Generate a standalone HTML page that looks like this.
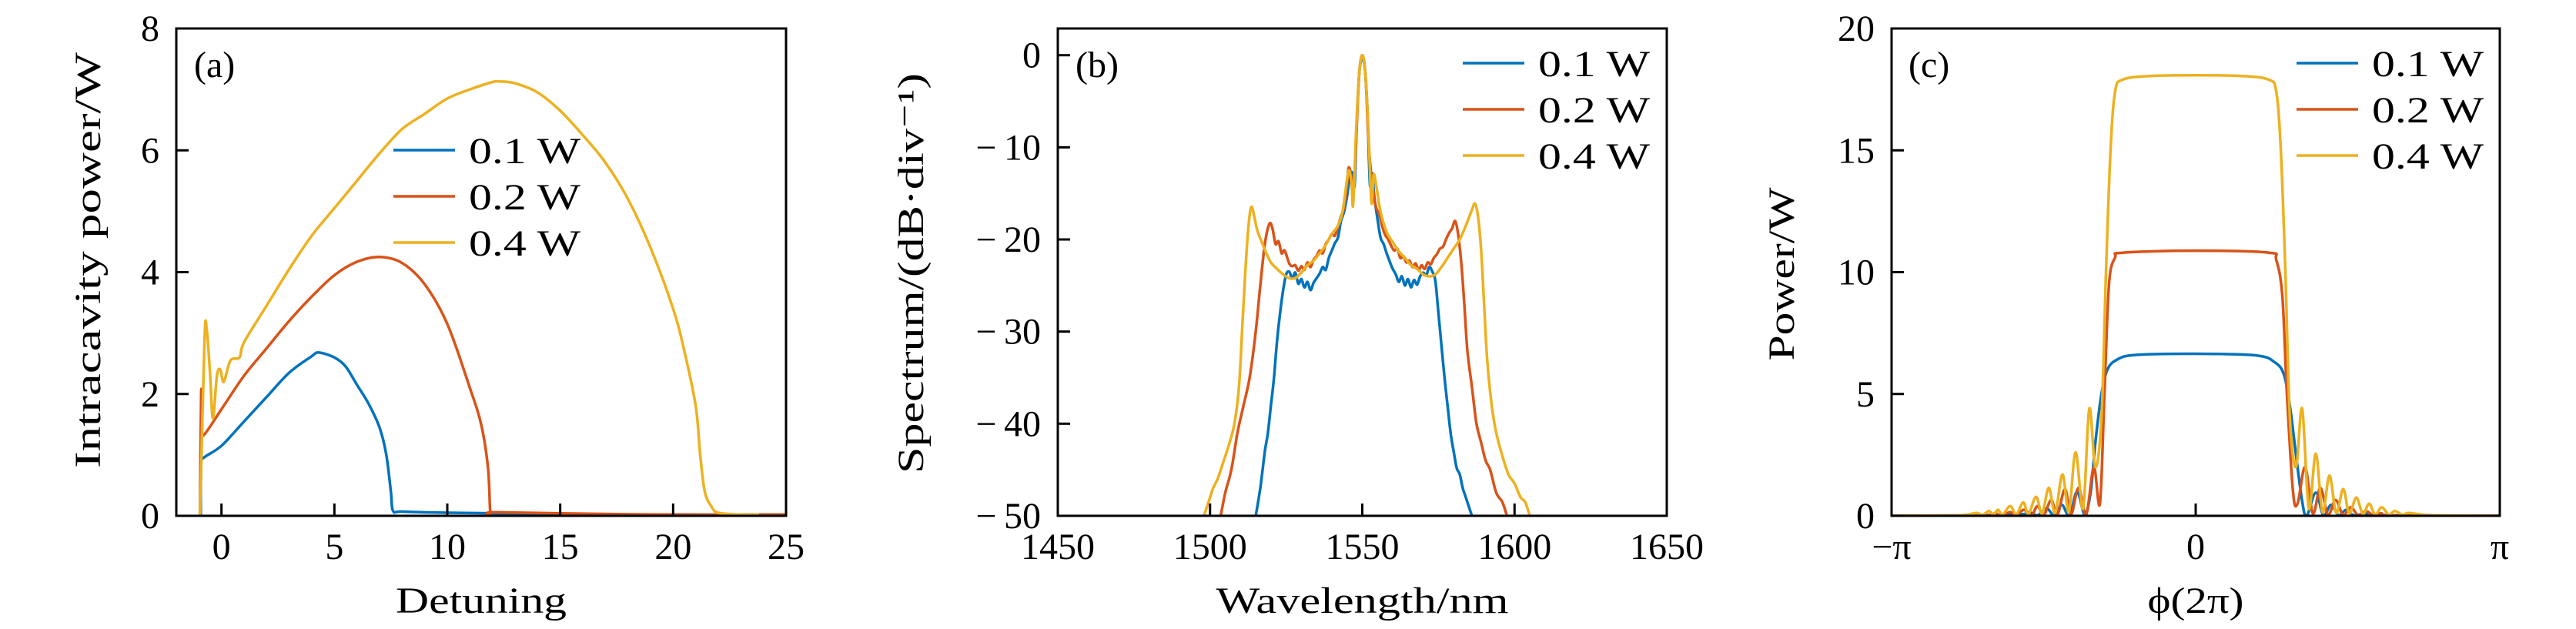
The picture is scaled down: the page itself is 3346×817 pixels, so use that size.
<!DOCTYPE html>
<html><head><meta charset="utf-8"><style>
html,body{margin:0;padding:0;background:#fff}
svg{display:block}
text{font-family:"Liberation Serif",serif;fill:#000}
</style></head><body>
<svg id="fig" width="3346" height="817" viewBox="0 0 3346 817" xmlns="http://www.w3.org/2000/svg"></svg>
<script>
// ---- Panel (a) data: detuning vs intracavity power ----
const aXTicks=[0,5,10,15,20,25];
const aYTicks=[0,2,4,6,8];
const aBlue=[[-0.92,0],[-0.9,0.85],[-0.8,0.95],[0,1.15],[1,1.55],[2,1.95],[3,2.35],[4,2.62],[4.3,2.68],[5,2.6],[5.5,2.45],[6,2.15],[6.5,1.85],[7,1.45],[7.3,1.0],[7.5,0.4],[7.6,0.08],[8,0.07],[10,0.05],[15,0.03],[20,0.02],[25,0.02]];
const aRed=[[-0.95,0],[-0.9,2.03],[-0.85,1.5],[-0.8,1.32],[0,1.75],[1,2.3],[2,2.75],[3,3.2],[4,3.6],[5,3.95],[6,4.17],[7,4.25],[8,4.15],[9,3.8],[10,3.15],[11,2.1],[11.5,1.5],[11.8,0.8],[11.9,0.08],[12,0.06],[15,0.04],[20,0.02],[25,0.02]];
const aYel=[[-0.95,0],[-0.75,2.9],[-0.65,3.05],[-0.5,2.3],[-0.38,1.6],[-0.2,2.3],[-0.05,2.4],[0.1,2.2],[0.4,2.55],[0.8,2.6],[1,2.85],[2,3.45],[3,4.05],[4,4.6],[5,5.05],[6,5.5],[7,5.95],[8,6.35],[9,6.6],[10,6.85],[11,7.0],[12,7.12],[12.3,7.13],[13,7.1],[14,6.95],[15,6.65],[16,6.25],[17,5.8],[18,5.2],[19,4.4],[20,3.4],[20.5,2.7],[21,1.8],[21.2,1.0],[21.4,0.4],[21.7,0.15],[22,0.05],[23,0.02],[23.8,0.02]];
// ---- Panel (b) data: spectra ----
const bXTicks=[1450,1500,1550,1600,1650];
const bYTicks=[0,-10,-20,-30,-40,-50];
const bBlue=[[1515,-50],[1516.5,-47],[1518,-43],[1519,-41],[1520,-38],[1521,-35],[1522,-31],[1523,-28],[1524,-25.5],[1525,-23.8],[1526,-23.5],[1527,-24.2],[1528,-23.6],[1529,-24.8],[1530,-24.3],[1531,-25.2],[1532,-24.6],[1533,-25.5],[1534,-24.7],[1535,-24.2],[1536,-23.7],[1537,-23.0],[1538,-23.3],[1539,-22.0],[1540,-21.2],[1541,-20.4],[1542,-19.8],[1543,-18.0],[1544,-17.0],[1545,-15.3],[1546,-13.0],[1546.8,-12.8],[1547.5,-14],[1548.3,-6],[1549,-2],[1549.5,-0.7],[1550,0],[1550.5,-0.7],[1551,-2],[1551.7,-6],[1552.5,-14],[1553.2,-12.8],[1554,-15.5],[1555,-17.8],[1556,-19.8],[1557,-20.5],[1558,-21.5],[1559,-22.4],[1560,-23.2],[1561,-23.8],[1562,-24.6],[1563,-24.0],[1564,-25.0],[1565,-24.3],[1566,-25.2],[1567,-24.4],[1568,-24.9],[1569,-24.0],[1570,-23.6],[1571,-23.9],[1572,-23.0],[1573,-23.5],[1574,-24.5],[1575,-28],[1576,-31.5],[1577,-35],[1578,-38],[1579,-41],[1580,-43],[1581,-44.8],[1582,-45.5],[1583,-47],[1584,-48],[1585,-49],[1586,-50]];
const bRed=[[1503.5,-50],[1505,-47.5],[1507,-45],[1509,-41],[1511,-38],[1513,-35],[1515,-30],[1516.5,-25],[1518,-20.5],[1519.5,-18.3],[1520.5,-18.8],[1521.5,-20.5],[1522.5,-20.2],[1523.5,-21.5],[1524.5,-21.2],[1526,-22.6],[1527,-22.9],[1528,-22.8],[1529,-23.4],[1530,-22.9],[1531,-23.3],[1532,-22.5],[1533,-23],[1534,-22.2],[1535,-21.8],[1536,-21.2],[1537,-21.5],[1538,-20.5],[1539,-20],[1540,-19.4],[1541,-19.6],[1542,-18.6],[1543,-17.5],[1544,-16.5],[1545,-14],[1545.5,-12.2],[1546.3,-13],[1547,-15.4],[1548,-9],[1549,-2],[1550,0],[1551,-2],[1552,-9],[1552.7,-12.2],[1553.5,-14.5],[1554.5,-16.5],[1555.5,-17.2],[1556.5,-18.5],[1557.5,-19.5],[1558.5,-20],[1559.5,-20.7],[1560.5,-21.2],[1561.5,-21.0],[1562.5,-22],[1563.5,-21.8],[1564.5,-22.5],[1565.5,-22.3],[1566.5,-23],[1567.5,-22.6],[1568.5,-23.3],[1569.5,-22.8],[1570.5,-23.2],[1571.5,-22.5],[1572.5,-22.7],[1573.5,-22],[1574.5,-21.6],[1575.5,-21],[1576.5,-20.8],[1577.5,-20],[1578.5,-19.3],[1579.5,-18.8],[1580.5,-18],[1581.5,-19.5],[1582.5,-22.5],[1583.5,-27],[1584.5,-32],[1586,-36],[1587.5,-40],[1589,-42],[1590.5,-44],[1592,-45],[1594,-47.5],[1596,-48.5],[1597.5,-50]];
const bYel=[[1498,-50],[1499.5,-48.5],[1501,-47],[1502.5,-46],[1504,-44.5],[1506,-42.5],[1508,-40],[1509.5,-36],[1510.5,-30],[1511.5,-24],[1512.5,-19],[1513.5,-16.5],[1514.5,-17.5],[1515.5,-19],[1517,-20.3],[1518.5,-21.5],[1520,-22.5],[1522,-23.2],[1524,-23.8],[1526,-24.2],[1528,-24.2],[1530,-23.6],[1532,-22.8],[1534,-22.3],[1536,-21.5],[1538,-20.6],[1540,-19.4],[1542,-18.5],[1543.5,-17],[1545,-13.5],[1545.7,-12.5],[1546.5,-14],[1547,-16.2],[1548,-8],[1549,-2],[1550,0],[1551,-2],[1552,-8],[1553,-16],[1553.7,-13],[1554.5,-14],[1556,-17],[1558,-19.2],[1560,-20.3],[1562,-21.3],[1564,-22],[1566,-22.8],[1568,-23.2],[1570,-23.8],[1572,-24],[1574,-23.8],[1576,-23],[1578,-22],[1580,-21],[1582,-20],[1584,-18.5],[1586,-16.8],[1587,-16.1],[1588,-17.5],[1589,-21],[1590,-27],[1591,-33],[1592.5,-38],[1594,-41],[1596,-43.5],[1598,-45.5],[1600,-46.5],[1602,-48],[1603.5,-48.5],[1605,-50]];
// ---- Panel (c) data: phase (units of pi) vs power ----
const cXTicks=[-1,0,1];
const cXLabels=["\u2212\u03c0","0","\u03c0"];
const cYTicks=[0,5,10,15,20];
const cBlue=[[-1,0],[-0.6,0.05],[-0.55,0.15],[-0.52,0.02],[-0.49,0.3],[-0.465,0.02],[-0.44,0.45],[-0.415,0.0],[-0.39,1.0],[-0.365,0.05],[-0.345,1.0],[-0.33,3.0],[-0.31,5.0],[-0.29,6.0],[-0.26,6.4],[-0.2,6.6],[0,6.65],[0.2,6.58],[0.26,6.3],[0.29,5.8],[0.31,4.5],[0.33,2.5],[0.35,0.6],[0.365,0],[0.395,0.95],[0.42,0.02],[0.445,0.45],[0.47,0.02],[0.495,0.25],[0.52,0.02],[0.56,0.1],[0.6,0.02],[1,0]];
const cRed=[[-1,0],[-0.7,0.02],[-0.66,0.1],[-0.64,0.02],[-0.61,0.15],[-0.59,0.02],[-0.565,0.25],[-0.54,0.02],[-0.52,0.4],[-0.5,0.02],[-0.475,0.65],[-0.455,0.03],[-0.43,1.1],[-0.41,0.05],[-0.385,1.15],[-0.36,0.05],[-0.335,2.0],[-0.315,0.5],[-0.3,5],[-0.285,9.5],[-0.265,10.6],[-0.24,10.8],[0,10.88],[0.24,10.8],[0.265,10.5],[0.285,9],[0.3,5],[0.32,1],[0.335,0.5],[0.36,2.0],[0.385,0.1],[0.41,1.15],[0.435,0.05],[0.46,0.65],[0.485,0.03],[0.51,0.35],[0.535,0.02],[0.56,0.2],[0.585,0.02],[0.61,0.1],[0.65,0.02],[1,0]];
const cYel=[[-1,0],[-0.8,0.02],[-0.75,0.05],[-0.72,0.12],[-0.70,0.04],[-0.68,0.2],[-0.665,0.05],[-0.65,0.25],[-0.635,0.05],[-0.61,0.4],[-0.59,0.06],[-0.567,0.55],[-0.55,0.08],[-0.525,0.78],[-0.505,0.1],[-0.483,1.15],[-0.462,0.12],[-0.438,1.7],[-0.417,0.15],[-0.395,2.6],[-0.37,0.3],[-0.35,4.4],[-0.33,2.0],[-0.31,4],[-0.295,10],[-0.28,15],[-0.265,17.4],[-0.24,17.9],[-0.15,18.05],[0,18.08],[0.15,18.05],[0.24,17.9],[0.265,17.4],[0.28,15],[0.295,10],[0.31,4],[0.33,2.0],[0.35,4.4],[0.372,0.3],[0.395,2.55],[0.417,0.15],[0.44,1.65],[0.462,0.12],[0.485,1.1],[0.505,0.1],[0.528,0.75],[0.55,0.08],[0.57,0.5],[0.59,0.06],[0.612,0.35],[0.635,0.05],[0.655,0.2],[0.68,0.04],[0.7,0.12],[0.75,0.04],[0.8,0.02],[1,0]];
const seriesNames=["0.1 W","0.2 W","0.4 W"];
const colors=["#0072BD","#D95319","#EDB120"];

const NS="http://www.w3.org/2000/svg";
const svg=document.getElementById('fig');
function mk(tag,attrs,parent){const e=document.createElementNS(NS,tag);for(const k in attrs)e.setAttribute(k,attrs[k]);(parent||svg).appendChild(e);return e;}
function smoothPath(pts){
  let d="M"+pts[0][0].toFixed(1)+","+pts[0][1].toFixed(1);
  for(let i=0;i<pts.length-1;i++){
    const p0=pts[i-1]||pts[i],p1=pts[i],p2=pts[i+1],p3=pts[i+2]||p2;
    const c1=[p1[0]+(p2[0]-p0[0])/6,p1[1]+(p2[1]-p0[1])/6];
    const c2=[p2[0]-(p3[0]-p1[0])/6,p2[1]-(p3[1]-p1[1])/6];
    d+=" C"+c1[0].toFixed(1)+","+c1[1].toFixed(1)+" "+c2[0].toFixed(1)+","+c2[1].toFixed(1)+" "+p2[0].toFixed(1)+","+p2[1].toFixed(1);
  }
  return d;
}
function panel(o){
  const g=mk('g',{});
  
  
  const sx=v=>o.x0+(v-o.xmin)/(o.xmax-o.xmin)*(o.x1-o.x0);
  const sy=v=>o.y1-(v-o.ymin)/(o.ymax-o.ymin)*(o.y1-o.y0);
  const cp=mk('clipPath',{id:o.id+'-clip'},g);
  mk('rect',{x:o.x0,y:o.y0,width:o.x1-o.x0,height:o.y1-o.y0},cp);
  const series=[o.s1,o.s2,o.s3];
  series.forEach((s,i)=>{
    const p=mk('path',{d:smoothPath(s.map(q=>[sx(q[0]),sy(q[1])])),fill:'none',stroke:colors[i],'stroke-width':3.5,'stroke-linejoin':'round','clip-path':'url(#'+o.id+'-clip)'},g);
    
    
  });
  const fr=mk('rect',{x:o.x0,y:o.y0,width:o.x1-o.x0,height:o.y1-o.y0,fill:'none',stroke:'#000','stroke-width':3},g);
  
  
  o.xt.forEach((v,i)=>{
    const X=sx(v);
    mk('line',{x1:X,y1:o.y1,x2:X,y2:o.y1-16,stroke:'#000','stroke-width':3},g);
    const t=mk('text',{x:X,y:o.y1+56,'font-size':48,'text-anchor':'middle'},g);
    t.textContent=o.xl?o.xl[i]:String(v).replace('-','\u2212');
    
    
  });
  o.yt.forEach(v=>{
    const Y=sy(v);
    mk('line',{x1:o.x0,y1:Y,x2:o.x0+16,y2:Y,stroke:'#000','stroke-width':3},g);
    const t=mk('text',{x:o.x0-22,y:Y+16,'font-size':48,'text-anchor':'end'},g);
    t.textContent=String(v).replace('-','\u2212\u2009');
    
    
  });
  const xl=mk('text',{x:(o.x0+o.x1)/2,y:796,'font-size':48,'text-anchor':'middle',textLength:o.xlw,lengthAdjust:'spacingAndGlyphs'},g);
  xl.textContent=o.xlabel;
  
  
  const yl=mk('text',{x:0,y:0,'font-size':48,'text-anchor':'middle',textLength:o.ylw,lengthAdjust:'spacingAndGlyphs',transform:'translate('+(o.ylx+16)+','+o.yly+') rotate(-90)'},g);
  yl.textContent=o.ylabel;
  
  
  const pl=mk('text',{x:o.plx,y:100,'font-size':48},g);
  pl.textContent=o.tag;
  
  
  seriesNames.forEach((n,i)=>{
    const Y=o.legY+i*60;
    const l=mk('line',{x1:o.legX,y1:Y,x2:o.legX+80,y2:Y,stroke:colors[i],'stroke-width':3.5},g);
    
    
    const t=mk('text',{x:o.legX+98,y:Y+17,'font-size':48,textLength:145,lengthAdjust:'spacingAndGlyphs'},g);
    t.textContent=n;
    
    
  });
}
panel({id:'panel-a',x0:229,x1:1021,y0:37,y1:670,xmin:-2,xmax:25,ymin:0,ymax:8,xt:aXTicks,yt:aYTicks,s1:aBlue,s2:aRed,s3:aYel,
  xlabel:'Detuning',xlw:222,ylabel:'Intracavity power/W',ylw:540,ylx:114,yly:338,tag:'(a)',plx:252,legX:511,legY:195});
panel({id:'panel-b',x0:1374,x1:2165,y0:37,y1:670,xmin:1450,xmax:1650,ymin:-50,ymax:2.9,xt:bXTicks,yt:bYTicks,s1:bBlue,s2:bRed,s3:bYel,
  xlabel:'Wavelength/nm',xlw:380,ylabel:'Spectrum/(dB\u00b7div\u207b\u00b9)',ylw:520,ylx:1183,yly:355,tag:'(b)',plx:1397,legX:1900,legY:82});
panel({id:'panel-c',x0:2457,x1:3247,y0:37,y1:670,xmin:-1,xmax:1,ymin:0,ymax:20,xt:cXTicks,xl:cXLabels,yt:cYTicks,s1:cBlue,s2:cRed,s3:cYel,
  xlabel:'\u03d5(2\u03c0)',xlw:125,ylabel:'Power/W',ylw:225,ylx:2314,yly:356,tag:'(c)',plx:2479,legX:2983,legY:82});
</script>
</body></html>
